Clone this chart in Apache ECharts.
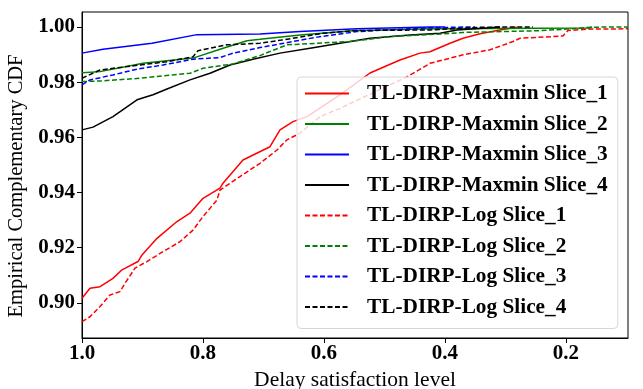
<!DOCTYPE html>
<html>
<head>
<meta charset="utf-8">
<script src="https://cdn.jsdelivr.net/npm/echarts@6/dist/echarts.min.js"></script>
<style>
  html, body { margin: 0; padding: 0; background: #fff; }
  #box { width: 643px; height: 389px; }
</style>
</head>
<body>
<div id="box"></div>
<script>
// [delay satisfaction level, empirical CCDF]
var maxminSlice1 = [[1.0,0.9017],[0.9868,0.9053],[0.9702,0.9059],[0.9488,0.9089],[0.9339,0.912],[0.9074,0.915],[0.9008,0.9174],[0.876,0.9234],[0.843,0.9295],[0.8215,0.9325],[0.8,0.9379],[0.7719,0.9416],[0.7669,0.9434],[0.7339,0.9518],[0.6893,0.9566],[0.6727,0.9627],[0.6512,0.9657],[0.6281,0.9675],[0.5736,0.9754],[0.524,0.9833],[0.4744,0.988],[0.4413,0.9905],[0.4248,0.991],[0.3917,0.9941],[0.3702,0.9959],[0.3421,0.9975],[0.3091,0.9989],[0.281,0.9999]];
var maxminSlice2 = [[1.0,0.9834],[0.9702,0.9838],[0.8992,0.9868],[0.8165,0.9887],[0.7719,0.9919],[0.7273,0.995],[0.7058,0.9955],[0.6397,0.9971],[0.5521,0.9986],[0.4248,0.9993],[0.1603,0.9996],[0.157,1.0]];
var maxminSlice3 = [[1.0,0.9905],[0.9653,0.9919],[0.8843,0.9941],[0.8099,0.9972],[0.7058,0.9974],[0.6397,0.9983],[0.5455,0.9993],[0.4248,1.0],[0.40,1.0]];
var maxminSlice4 = [[1.0,0.9627],[0.9818,0.9637],[0.9488,0.9675],[0.9091,0.9736],[0.8826,0.9754],[0.8595,0.9775],[0.8215,0.9808],[0.7884,0.9832],[0.7554,0.9862],[0.7174,0.9883],[0.6727,0.9905],[0.6231,0.9923],[0.5736,0.9941],[0.524,0.9959],[0.4579,0.9971],[0.4083,0.9977],[0.3802,0.9989],[0.3372,0.9995],[0.3091,1.0]];
var logSlice1 = [[1.0,0.8932],[0.9868,0.895],[0.9702,0.8987],[0.9537,0.9029],[0.9372,0.9041],[0.9289,0.9071],[0.9124,0.9126],[0.8926,0.915],[0.8661,0.9186],[0.838,0.9222],[0.8165,0.9264],[0.8,0.9313],[0.7769,0.9373],[0.7719,0.9409],[0.7388,0.9458],[0.7058,0.9506],[0.6777,0.9554],[0.6612,0.9591],[0.6397,0.9615],[0.6066,0.9675],[0.5736,0.9705],[0.4628,0.9819],[0.4248,0.9868],[0.3702,0.9899],[0.3256,0.9917],[0.2876,0.9947],[0.276,0.9959],[0.205,0.9967],[0.1967,0.9987],[0.1603,0.9992],[0.0975,0.9993]];
var logSlice2 = [[1.0,0.9802],[0.9702,0.9804],[0.9041,0.9814],[0.8215,0.9832],[0.8,0.985],[0.7504,0.9866],[0.7058,0.9896],[0.6893,0.9911],[0.6612,0.9935],[0.557,0.9947],[0.4909,0.9965],[0.4083,0.9974],[0.3702,0.998],[0.2479,0.9986],[0.1983,0.9992],[0.157,0.9999],[0.0975,1.0]];
var logSlice3 = [[1.0,0.979],[0.9868,0.9808],[0.9488,0.9826],[0.9091,0.9847],[0.8661,0.9862],[0.8165,0.9883],[0.7719,0.9889],[0.7504,0.9905],[0.7058,0.9925],[0.6116,0.9963],[0.5455,0.9983],[0.4248,0.9997],[0.3504,1.0]];
var logSlice4 = [[1.0,0.9814],[0.9702,0.9844],[0.9041,0.9862],[0.8595,0.9874],[0.8165,0.9892],[0.8083,0.9914],[0.7603,0.9935],[0.7058,0.9941],[0.6678,0.9953],[0.6017,0.9977],[0.5455,0.9987],[0.4248,0.9989],[0.3372,0.9999],[0.2545,1.0]];

var xTicks = [0.2, 0.4, 0.6, 0.8, 1.0];
var yTicks = [0.90, 0.92, 0.94, 0.96, 0.98, 1.00];

var names = ['TL-DIRP-Maxmin Slice_1','TL-DIRP-Maxmin Slice_2','TL-DIRP-Maxmin Slice_3','TL-DIRP-Maxmin Slice_4',
             'TL-DIRP-Log Slice_1','TL-DIRP-Log Slice_2','TL-DIRP-Log Slice_3','TL-DIRP-Log Slice_4'];
var datas = [maxminSlice1, maxminSlice2, maxminSlice3, maxminSlice4, logSlice1, logSlice2, logSlice3, logSlice4];
var colors = ['#ff0000','#008000','#0000ff','#000000','#ff0000','#008000','#0000ff','#000000'];

var font = 'Liberation Serif, Times New Roman, serif';

var series = names.map(function (n, i) {
    return {
        name: n,
        type: 'line',
        data: datas[i],
        symbol: 'none',
        showSymbol: false,
        animation: false,
        lineStyle: {
            color: colors[i],
            width: 1.5,
            type: i < 4 ? 'solid' : [5, 2.5]
        },
        itemStyle: { color: colors[i] }
    };
});

var dom = document.getElementById('box');
var myChart = echarts.init(dom);
var option = {
    animation: false,
    grid: {
        left: 82, right: 15, top: 12, bottom: 51,
        containLabel: false,
        outerBoundsMode: 'none',
        show: true, borderColor: '#000', borderWidth: 1
    },
    legend: {
        orient: 'vertical',
        left: 297, top: 77,
        padding: [6, 10, 11, 7],
        itemWidth: 44, itemHeight: 14, itemGap: 9.5,
        itemStyle: { opacity: 0 },
        backgroundColor: 'rgba(255,255,255,0.8)',
        borderColor: '#d6d6d6', borderWidth: 1, borderRadius: 4,
        textStyle: {
            fontFamily: font, fontWeight: 'bold', fontSize: 21.3,
            color: '#000', lineHeight: 20, padding: [0, 0, 0, 13]
        },
        data: names
    },
    xAxis: {
        type: 'value',
        inverse: true,
        min: 0.0975, max: 1.0,
        name: 'Delay satisfaction level',
        nameLocation: 'middle',
        nameGap: 22,
        nameTextStyle: { fontFamily: font, fontSize: 21.5, color: '#000' },
        splitLine: { show: false },
        axisLine: { show: true, lineStyle: { color: '#000' } },
        axisTick: { show: true, length: 5, customValues: xTicks, lineStyle: { color: '#000' } },
        axisLabel: {
            customValues: xTicks, margin: 5,
            fontFamily: font, fontWeight: 'bold', fontSize: 21, color: '#000',
            formatter: function (v) { return v.toFixed(1); }
        }
    },
    yAxis: {
        type: 'value',
        min: 0.8873, max: 1.0054,
        name: 'Empirical Complementary CDF',
        nameLocation: 'middle',
        nameGap: 49,
        nameTextStyle: { fontFamily: font, fontSize: 20.5, color: '#000', padding: [0, 22, 0, 0] },
        splitLine: { show: false },
        axisLine: { show: true, lineStyle: { color: '#000' } },
        axisTick: { show: true, length: 5, customValues: yTicks, lineStyle: { color: '#000' } },
        axisLabel: {
            customValues: yTicks, margin: 7,
            fontFamily: font, fontWeight: 'bold', fontSize: 21, color: '#000',
            formatter: function (v) { return v.toFixed(2); }
        }
    },
    series: series
};
if (option && typeof option === 'object') {
    myChart.setOption(option, true);
}
</script>
</body>
</html>
